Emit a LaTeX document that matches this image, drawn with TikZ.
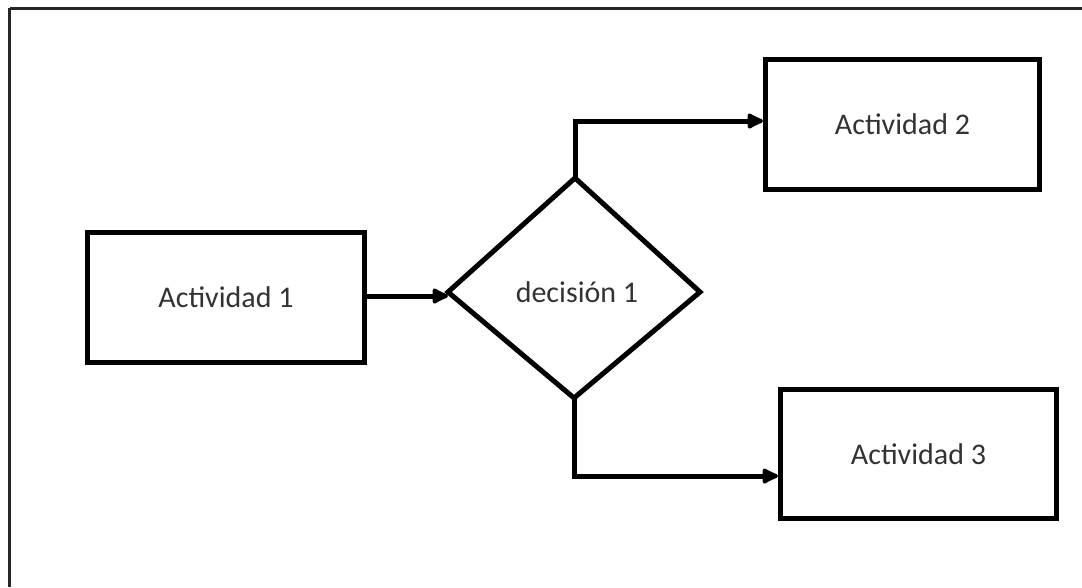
\documentclass[tikz,border=0pt]{standalone}
\usepackage{fontspec}
\setmainfont{Carlito}
\usetikzlibrary{arrows.meta}
\begin{document}
\begin{tikzpicture}[x=1pt,y=-1pt,
  label font/.style={font=\fontsize{30}{34}\selectfont,text=black!80},
  actbox/.style={draw=black,line width=5pt,fill=white,label font},
  conn/.style={line width=5pt,-{Latex[round,length=20pt,width=19pt]}},
  frameline/.style={line width=3pt,draw=black!85}]
\useasboundingbox (0,0) rectangle (1082,587);
% page frame (top and left edges only)
\draw[frameline] (9.5,8) -- (1082,8);
\draw[frameline] (9.5,8) -- (9.5,587);
% activity boxes
\node[actbox,minimum width=277pt,minimum height=130pt,anchor=north west] (a1) at (85,230) {Actividad 1};
\node[actbox,minimum width=274pt,minimum height=130pt,anchor=north west] (a2) at (763,57) {Actividad 2};
\node[actbox,minimum width=276pt,minimum height=129pt,anchor=north west] (a3) at (778,387) {Actividad 3};
% decision diamond
\coordinate (dl) at (448,292);
\coordinate (dt) at (575,178);
\coordinate (dr) at (700,292);
\coordinate (db) at (574,398);
\draw[line width=5pt,line join=miter] (dl) -- (dt) -- (dr) -- (db) -- cycle;
\node[label font] (d1) at (577,292) {decisión 1};
% connectors
\draw[conn] (a1.east |- 0,296) -- (dl |- 0,296);
\draw[conn] (dt) -- (575,121) -- (a2.west |- 0,121);
\draw[conn] (db) -- (574,476) -- (a3.west |- 0,476);
\end{tikzpicture}
\end{document}
